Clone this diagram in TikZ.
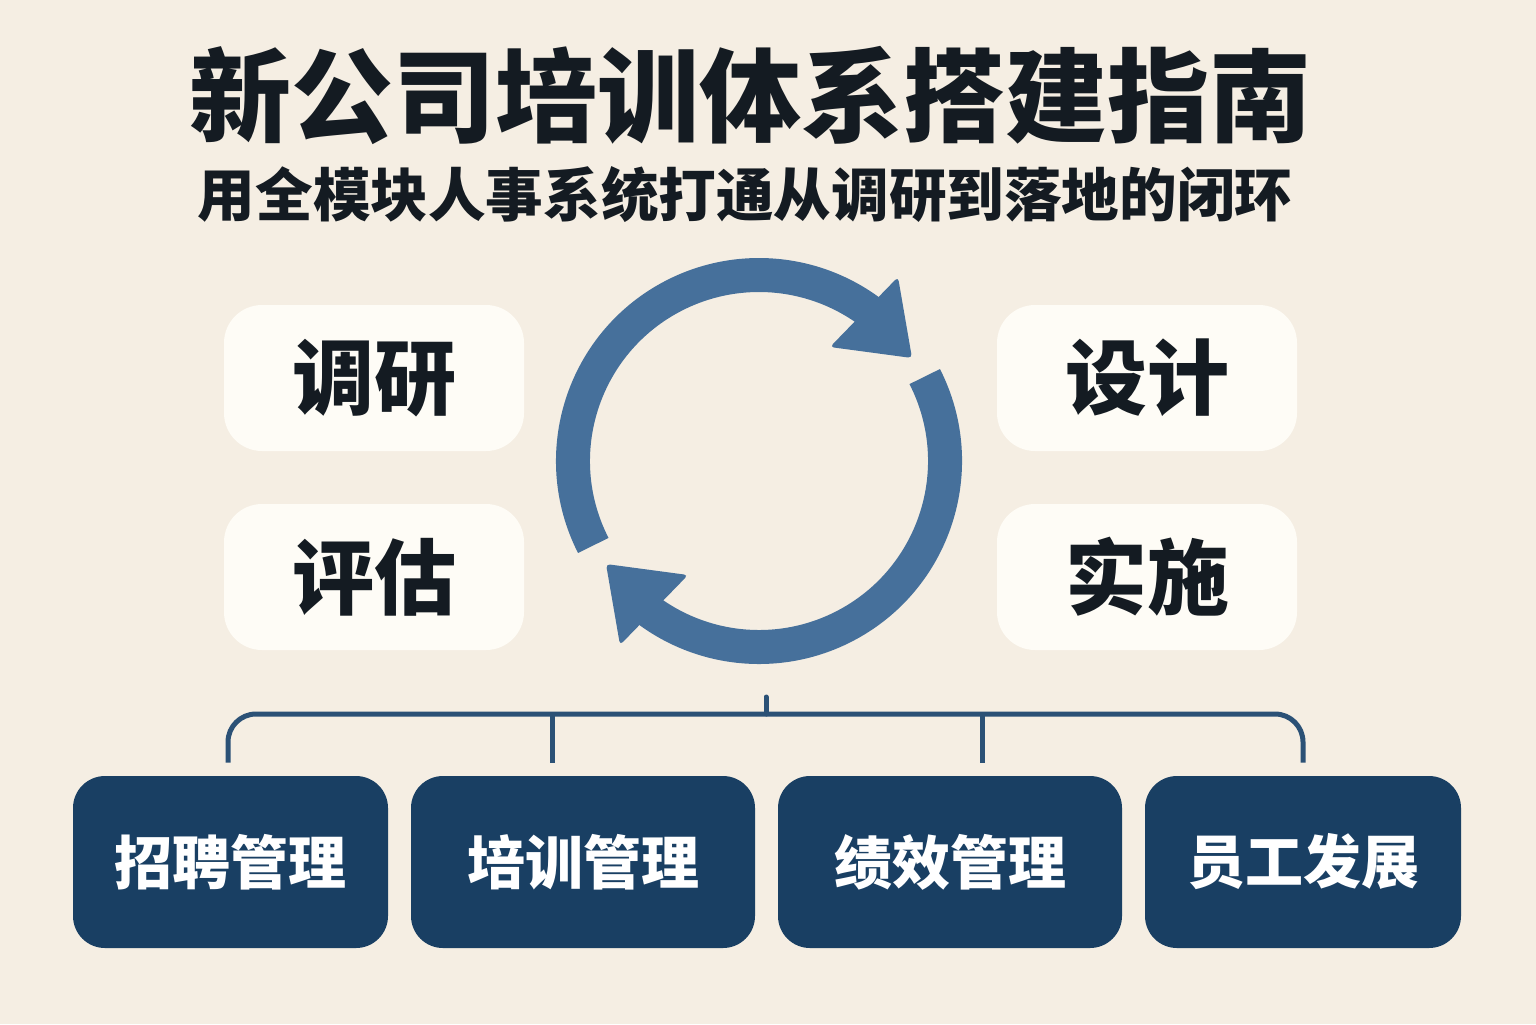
\documentclass[tikz,border=0pt]{standalone}
\usepackage{fontspec}
\newfontfamily\cjk{Noto Sans CJK SC}
\definecolor{bg}{HTML}{F5EEE3}
\definecolor{card}{HTML}{FEFCF6}
\definecolor{ink}{HTML}{141B22}
\definecolor{cyc}{HTML}{46709B}
\definecolor{navy}{HTML}{193F63}
\definecolor{treec}{HTML}{2B5176}
\begin{document}
\begin{tikzpicture}[
  x=0.5pt, y=-0.5pt,
  card/.style={fill=card, rounded corners=19pt, minimum width=150pt, minimum height=73pt, inner sep=0pt, text=ink, font=\cjk\bfseries\fontsize{41}{41}\selectfont},
  navybox/.style={fill=navy, rounded corners=16pt, minimum height=86pt, inner sep=0pt, text=white, font=\cjk\bfseries\fontsize{29}{29}\selectfont},
  treeline/.style={draw=treec, line width=2.5pt},
  cycarc/.style={draw=cyc, line width=17pt},
  cychead/.style={fill=cyc, rounded corners=2pt}
]
\fill[bg] (0,0) rectangle (1536,1024);
\useasboundingbox (0,0) rectangle (1536,1024);

% titles
\node[text=ink, font=\cjk\bfseries\fontsize{51}{51}\selectfont] (title) at (750,95) {新公司培训体系搭建指南};
\node[text=ink, font=\cjk\bfseries\fontsize{28.8}{28.8}\selectfont] (sub) at (745,195) {用全模块人事系统打通从调研到落地的闭环};

% stage cards
\node[card] (dy) at (374,378) {调研};
\node[card] (pg) at (374,577) {评估};
\node[card] (sj) at (1147,378) {设计};
\node[card] (ss) at (1147,577) {实施};

% cycle
\coordinate (cc) at (759,461);
\draw[cycarc] (cc) ++(-207:186) arc[start angle=-207, end angle=-52, radius=186];
\fill[cychead] (898,277) -- (830,347) -- (912,358) -- cycle;
\draw[cycarc] (cc) ++(-27:186) arc[start angle=-27, end angle=128, radius=186];
\fill[cychead] (620,645) -- (688,575) -- (606,564) -- cycle;

% module boxes
\node[navybox, minimum width=157.5pt] (b1) at (230.5,862) {招聘管理};
\node[navybox, minimum width=172pt] (b2) at (583,862) {培训管理};
\node[navybox, minimum width=172pt] (b3) at (950,862) {绩效管理};
\node[navybox, minimum width=158pt] (b4) at (1303,862) {员工发展};

% tree
\coordinate (hub) at (766,714);
\coordinate (stemtop) at (766,697);
\coordinate (d1) at ([xshift=-1.25pt, yshift=6.5pt]b1.north);
\coordinate (d2) at ([xshift=-15.5pt, yshift=6.5pt]b2.north);
\coordinate (d3) at ([xshift=16pt, yshift=6.5pt]b3.north);
\coordinate (d4) at ([yshift=6.5pt]b4.north);
\draw[treeline, line cap=round] (stemtop) -- (hub);
\draw[treeline, rounded corners=14pt] (d1) |- (hub) -| (d4);
\draw[treeline] (d2) -- (d2 |- hub);
\draw[treeline] (d3) -- (d3 |- hub);
\end{tikzpicture}
\end{document}
